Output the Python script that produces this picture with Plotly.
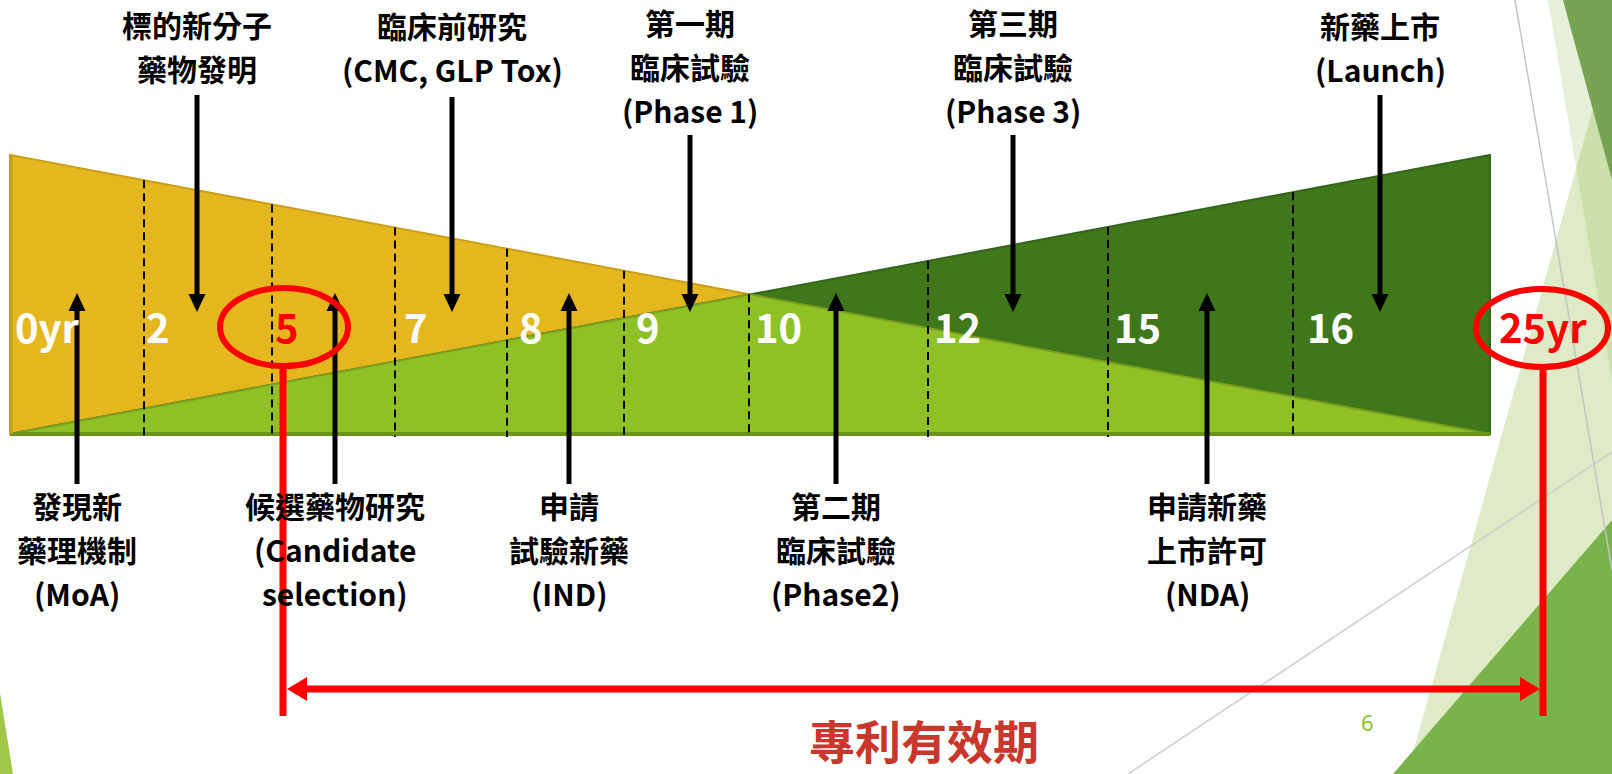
import plotly.graph_objects as go

W, H = 1612, 774
FONT = "Noto Sans CJK TC"

# ---- timeline content -------------------------------------------------------
year_labels = ["0yr", "2", "5", "7", "8", "9", "10", "12", "15", "16", "25yr"]
highlight_years = ["5", "25yr"]

top_stages = [
    ["標的新分子", "藥物發明"],
    ["臨床前研究", "(CMC, GLP Tox)"],
    ["第一期", "臨床試驗", "(Phase 1)"],
    ["第三期", "臨床試驗", "(Phase 3)"],
    ["新藥上市", "(Launch)"],
]
bottom_stages = [
    ["發現新", "藥理機制", "(MoA)"],
    ["候選藥物研究", "(Candidate", "selection)"],
    ["申請", "試驗新藥", "(IND)"],
    ["第二期", "臨床試驗", "(Phase2)"],
    ["申請新藥", "上市許可", "(NDA)"],
]
patent_label = "專利有效期"
page_number = "6"

# ---- layout (slide coordinates, px) ----------------------------------------
year_x = [47, 158, 287, 416, 531, 648, 778, 957, 1137, 1330, 1543]
year_y = 326
divider_x = [144, 272, 395, 507, 624, 749, 928, 1108, 1293]
top_x = [197, 452, 690, 1013, 1380]
top_y = [46, 47, 66, 66, 47]
top_arrow_start = [95, 97, 135, 135, 95]
bottom_x = [77, 335, 569, 836, 1207]
bottom_y = 549
LABEL_SIZE = 30
LINE_STEP = 44

X0, X1, YT, YB = 10, 1490, 155, 434

YELLOW = "#E5B71F"
LIGHT_GREEN = "#8EC126"
DARK_GREEN = "#3F771A"
RED = "#FF0000"

shapes = []
annotations = []


def poly(points, fill, line_color=None, line_width=0, layer="above"):
    d = "M " + " L ".join(f"{x},{y}" for x, y in points) + " Z"
    shapes.append(dict(type="path", path=d, xref="x", yref="y", fillcolor=fill,
                       line=dict(color=line_color or fill, width=line_width),
                       layer=layer))


def seg(x0, y0, x1, y1, color, width, dash=None, layer="above"):
    shapes.append(dict(type="line", x0=x0, y0=y0, x1=x1, y1=y1, xref="x", yref="y",
                       line=dict(color=color, width=width, dash=dash), layer=layer))


def arrow_v(x, y_from, y_tip, color="black", width=5, head_w=17, head_l=18):
    sgn = 1 if y_tip > y_from else -1
    seg(x, y_from, x, y_tip - sgn * head_l * 0.6, color, width)
    poly([(x - head_w / 2, y_tip - sgn * head_l), (x + head_w / 2, y_tip - sgn * head_l),
          (x, y_tip)], color)


def arrow_h(y, x_tip, sgn, color, head_l=20, head_h=24):
    poly([(x_tip - sgn * head_l, y - head_h / 2), (x_tip - sgn * head_l, y + head_h / 2),
          (x_tip, y)], color)


def text_block(lines, x, y_mid):
    first = y_mid - LINE_STEP * (len(lines) - 1) / 2
    for i, line in enumerate(lines):
        annotations.append(dict(
            x=x, y=first + i * LINE_STEP, xref="x", yref="y", text=line,
            showarrow=False, xanchor="center", yanchor="middle",
            font=dict(family=FONT, size=LABEL_SIZE, weight="bold", color="black")))


# ---- slide background decorations ------------------------------------------
poly([(1407, 774), (1612, 40), (1612, 774)], "#DEEBC6", layer="below")
poly([(1548, 0), (1612, 0), (1612, 381)], "rgba(141,187,77,0.22)", layer="below")
poly([(1563, 0), (1612, 0), (1612, 180)], "#77A452", layer="below")
poly([(1393, 774), (1612, 520), (1612, 774)], "#7AB34C", layer="below")
poly([(0, 693), (13, 774), (0, 774)], "#A0C74A", layer="below")
seg(1515, 0, 1612, 570, "#C4C4C4", 1.5, layer="below")
seg(1128, 774, 1612, 452, "#CDCDCD", 1.5, layer="below")


# ---- overlapping wedges -----------------------------------------------------
def edge_y(x, rising):
    t = (x - X0) / (X1 - X0)
    return YB - (YB - YT) * t if rising else YT + (YB - YT) * t


xm = (X0 + X1) / 2
ym = edge_y(xm, False)
poly([(X0, YT), (X0, YB), (X1, YB)], YELLOW, "#C9A01B", 2)
poly([(X0, YB), (X1, YT), (X1, YB)], DARK_GREEN, "#35651A", 2)
poly([(X0, YB), (xm, ym), (X1, YB)], LIGHT_GREEN, "#7E9E1E", 2)
seg(X0, YB, X1, YB, "#6B9517", 4)
seg(X0 + 1, YT, X0 + 1, YB, "#C4A01E", 3)

for x in divider_x:
    top = min(edge_y(x, False), edge_y(x, True))
    seg(x, top, x, YB + 3, "black", 2, dash="8px,5px")

# ---- year labels ------------------------------------------------------------
for label, x in zip(year_labels, year_x):
    annotations.append(dict(
        x=x, y=year_y, xref="x", yref="y", text=label, showarrow=False,
        xanchor="center", yanchor="middle",
        font=dict(family=FONT, size=40, weight="bold",
                  color=RED if label in highlight_years else "white")))

# ---- stage labels with arrows ------------------------------------------------
for lines, x, y, y0 in zip(top_stages, top_x, top_y, top_arrow_start):
    text_block(lines, x, y)
    arrow_v(x, y0, 312)

for lines, x in zip(bottom_stages, bottom_x):
    text_block(lines, x, bottom_y)
    arrow_v(x, 484, 293)

# ---- patent term span ---------------------------------------------------------
shapes.append(dict(type="circle", x0=220, x1=348, y0=288, y1=366, xref="x", yref="y",
                   line=dict(color=RED, width=6)))
shapes.append(dict(type="circle", x0=1476, x1=1608, y0=289, y1=367, xref="x", yref="y",
                   line=dict(color=RED, width=6)))
seg(283, 366, 283, 716, RED, 7)
seg(1543, 367, 1543, 716, RED, 7)
seg(300, 689, 1525, 689, RED, 7)
arrow_h(689, 287, -1, RED)
arrow_h(689, 1540, 1, RED)

annotations.append(dict(x=924, y=739, xref="x", yref="y", text=patent_label,
                        showarrow=False, xanchor="center", yanchor="middle",
                        font=dict(family=FONT, size=46, weight="bold", color="#C9372C")))
annotations.append(dict(x=1367, y=722, xref="x", yref="y", text=page_number,
                        showarrow=False, xanchor="center", yanchor="middle",
                        font=dict(family="Noto Sans", size=22, color="#8DBF2E")))

fig = go.Figure()
fig.update_layout(
    width=W, height=H, margin=dict(l=0, r=0, t=0, b=0),
    paper_bgcolor="white", plot_bgcolor="white",
    xaxis=dict(range=[0, W], visible=False, fixedrange=True),
    yaxis=dict(range=[H, 0], visible=False, fixedrange=True),
    shapes=shapes, annotations=annotations, showlegend=False,
)
fig.write_html("out.html", config={"displayModeBar": False})
